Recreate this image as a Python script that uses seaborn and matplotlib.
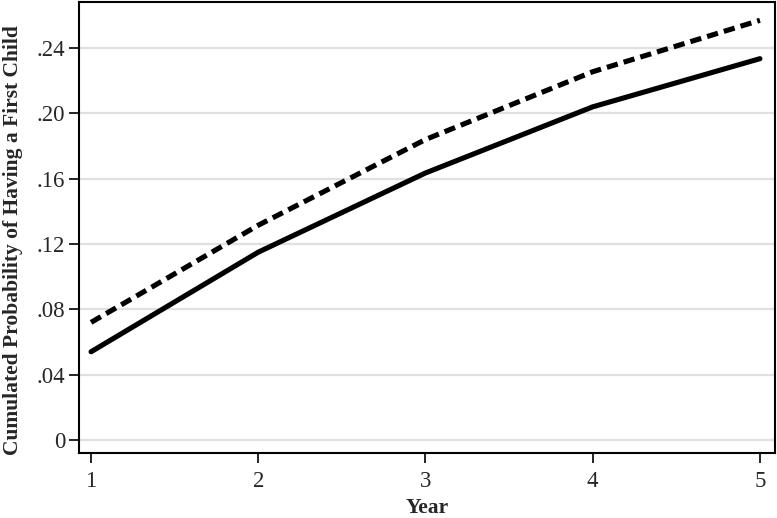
import pandas as pd
import numpy as np
import matplotlib.pyplot as plt
import seaborn as sns

# Valeurs
years = [1, 2, 3, 4, 5]
prob_solid = [0.054, 0.115, 0.1635, 0.204, 0.2335]
prob_dashed = [0.072, 0.1315, 0.184, 0.2255, 0.257]
y_ticks = [0, 0.04, 0.08, 0.12, 0.16, 0.20, 0.24]
y_ticklabels = ['0', '.04', '.08', '.12', '.16', '.20', '.24']

df = pd.DataFrame({
    'Year': years * 2,
    'prob': prob_solid + prob_dashed,
    'group': ['solid'] * len(years) + ['dashed'] * len(years),
})

sns.set_style('white')
plt.rcParams['font.family'] = ['Liberation Serif', 'DejaVu Serif']

fig = plt.figure(figsize=(7.77, 5.18), dpi=100)
ax = fig.add_axes([0.1017, 0.1255, 0.8957, 0.8706])

for y in y_ticks:
    ax.axhline(y, color='#e0e0e0', lw=1.6, zorder=0)

sns.lineplot(data=df, x='Year', y='prob', style='group',
             style_order=['solid', 'dashed'],
             dashes={'solid': '', 'dashed': (2.2, 1.2)},
             color='black', lw=3.7, legend=False, ax=ax)
for line in ax.get_lines():
    line.set_solid_capstyle('round')

ax.set_xlim(0.928, 5.09)
ax.set_ylim(-0.008, 0.2682)
ax.set_xticks(years)
ax.set_yticks(y_ticks)
ax.set_yticklabels(y_ticklabels)
ax.tick_params(axis='both', direction='out', length=7, width=1.2,
               color='black', labelsize=16.5, pad=3,
               bottom=True, left=True)
ax.tick_params(axis='x', pad=6)
ax.set_xlabel('Year', fontsize=15.5, fontweight='bold')
ax.set_ylabel('Cumulated Probability of Having a First Child',
              fontsize=15.5, fontweight='bold')
ax.xaxis.set_label_coords(0.5, -0.1)
ax.yaxis.set_label_coords(-0.081, 0.472)
for s in ax.spines.values():
    s.set_color('black')
    s.set_linewidth(1.5)

fig.savefig('out.png', dpi=100)
